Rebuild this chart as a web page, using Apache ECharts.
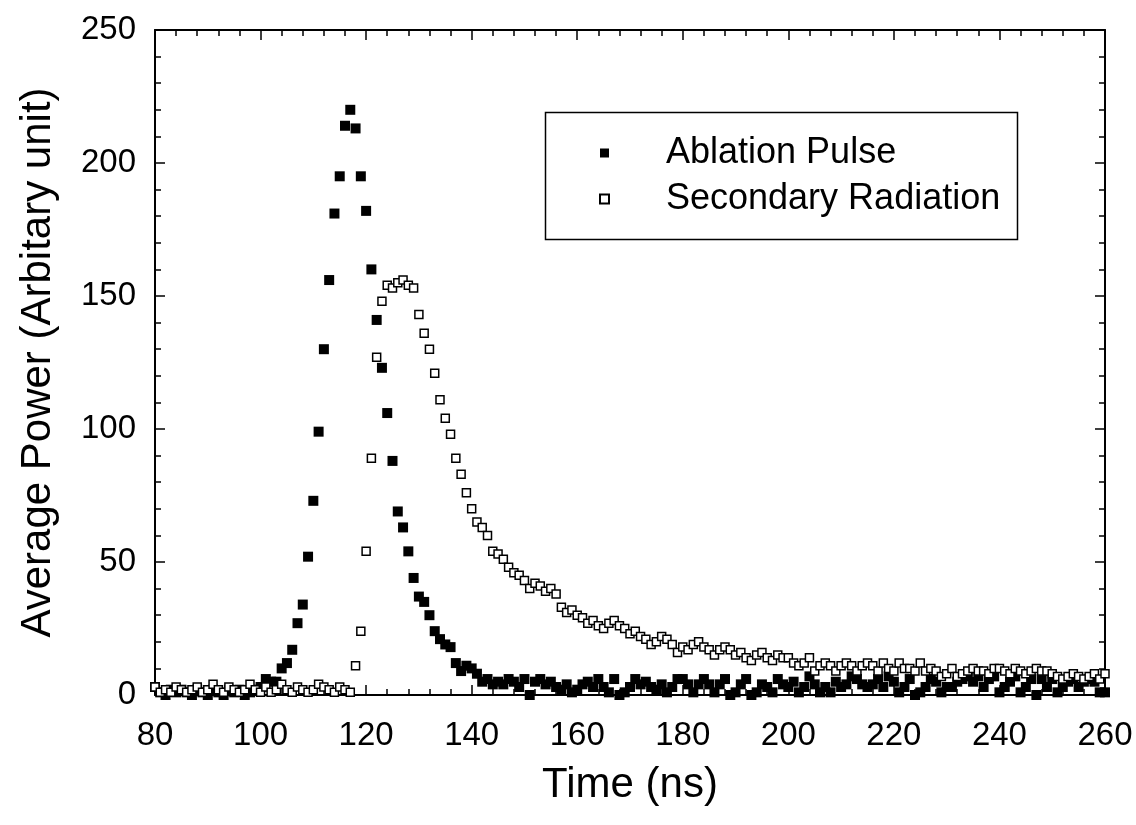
<!DOCTYPE html>
<html>
<head>
<meta charset="utf-8">
<script src="https://cdn.jsdelivr.net/npm/echarts@6/dist/echarts.min.js"></script>
<style>
html,body{margin:0;padding:0;background:#fff;}
#chart{width:1136px;height:825px;}
</style>
</head>
<body>
<div id="chart"></div>
<script>
// Time axis (ns): samples every 1 ns from 80 to 260
const timeStart = 80;
const timeStep = 1;

// Ablation Pulse (solid squares), t = 80..260
const ablation = [
  3,1,0,2,1,2,1,0,2,1,0,2,1,0,2,1,2,0,1,2,          // 80-99
  3,6,5,5,10,12,17,27,34,52,                        // 100-109
  73,99,130,156,181,195,214,220,213,195,            // 110-119
  182,160,141,123,106,88,69,63,54,44,               // 120-129
  37,35,30,24,21,19,18,12,9,11,                     // 130-139
  10,8,5,6,4,5,4,6,5,3,                             // 140-149
  6,0,5,6,4,5,3,2,4,1,                              // 150-159
  2,4,5,3,6,3,1,6,0,1,                              // 160-169
  3,6,4,5,3,2,4,1,3,6,                              // 170-179
  6,4,1,4,6,4,1,4,6,0,                              // 180-189
  1,4,6,0,1,4,3,1,6,4,                              // 190-199
  3,5,1,3,7,4,1,3,1,5,                              // 200-209
  3,4,7,6,4,3,4,6,3,7,                              // 210-219
  5,1,3,6,0,1,3,6,5,1,                              // 220-229
  3,3,5,6,7,5,7,3,6,7,                              // 230-239
  1,3,5,7,1,3,6,0,6,3,                              // 240-249
  6,1,3,5,6,3,5,6,5,1,                              // 250-259
  1                                                 // 260
];

// Secondary Radiation (open squares), t = 80..260
const secondary = [
  3,1,2,1,3,2,1,2,3,1,2,4,2,1,3,2,1,2,4,2,          // 80-99
  1,3,1,2,4,2,1,3,2,1,2,4,3,2,1,3,2,1,              // 100-117
  11,24,                                            // 118-119
  54,89,127,148,154,153,155,156,154,153,            // 120-129
  143,136,130,121,111,104,98,89,83,76,              // 130-139
  70,65,63,60,54,53,51,48,46,45,                    // 140-149
  43,40,42,41,39,40,38,33,31,32,                    // 150-159
  30,29,27,28,26,25,27,28,26,25,                    // 160-169
  23,24,22,21,19,20,22,21,19,16,                    // 170-179
  18,17,19,20,18,17,15,17,18,17,                    // 180-189
  15,16,14,13,15,16,14,13,15,14,                    // 190-199
  14,12,11,12,14,9,11,12,11,9,                      // 200-209
  11,12,11,9,11,12,11,9,12,10,                      // 210-219
  9,12,10,10,9,12,9,10,9,7,                         // 220-229
  8,10,7,8,9,10,9,9,8,10,                           // 230-239
  10,9,8,10,9,8,9,10,9,9,                           // 240-249
  8,7,6,7,8,7,6,7,8,6,                              // 250-259
  8                                                 // 260
];

const seriesNames = ['Ablation Pulse', 'Secondary Radiation'];
const xTicks = [80, 100, 120, 140, 160, 180, 200, 220, 240, 260];
const yTicks = [0, 50, 100, 150, 200, 250];

function pairs(vals) {
  return vals.map((v, i) => [timeStart + i * timeStep, v]);
}

const FONT = 'Liberation Sans, Arial, sans-serif';
const chart = echarts.init(document.getElementById('chart'), null, {renderer: 'canvas'});

const axisCommon = {
  axisLine: {show: true, onZero: false, lineStyle: {color: '#000', width: 2}},
  axisTick: {show: true, inside: true, length: 10, lineStyle: {color: '#000', width: 1.5}},
  minorTick: {show: true, splitNumber: 5, length: 6, lineStyle: {color: '#000', width: 1.5}},
  splitLine: {show: false}
};

chart.setOption({
  animation: false,
  backgroundColor: '#fff',
  grid: {left: 155, right: 31, top: 30, bottom: 130, containLabel: false},
  xAxis: [
    Object.assign({
      type: 'value', position: 'bottom',
      min: xTicks[0], max: xTicks[xTicks.length - 1], interval: 20,
      name: 'Time (ns)', nameLocation: 'middle', nameGap: 69,
      nameTextStyle: {fontFamily: FONT, fontSize: 42, color: '#000'},
      axisLabel: {fontFamily: FONT, fontSize: 33, color: '#000', margin: 24}
    }, axisCommon),
    Object.assign({
      type: 'value', position: 'top',
      min: xTicks[0], max: xTicks[xTicks.length - 1], interval: 20,
      axisLabel: {show: false}
    }, axisCommon)
  ],
  yAxis: [
    Object.assign({
      type: 'value', position: 'left',
      min: yTicks[0], max: yTicks[yTicks.length - 1], interval: 50,
      name: 'Average Power (Arbitary unit)', nameLocation: 'middle', nameGap: 96,
      nameTextStyle: {fontFamily: FONT, fontSize: 42, color: '#000'},
      axisLabel: {fontFamily: FONT, fontSize: 33, color: '#000', margin: 19}
    }, axisCommon),
    Object.assign({
      type: 'value', position: 'right',
      min: yTicks[0], max: yTicks[yTicks.length - 1], interval: 50,
      axisLabel: {show: false}
    }, axisCommon)
  ],
  legend: {
    left: 594, top: 128,
    orient: 'vertical',
    itemWidth: 9, itemHeight: 9, itemGap: 6,
    textStyle: {fontFamily: FONT, fontSize: 36, color: '#000', padding: [0, 0, 0, 52], lineHeight: 40},
    data: seriesNames
  },
  graphic: [{
    type: 'rect', left: 543, top: 110, z: 100,
    shape: {width: 472, height: 127},
    style: {fill: 'none', stroke: '#000', lineWidth: 1.5}
  }],
  series: [
    {
      name: seriesNames[0], type: 'scatter', symbol: 'rect', symbolSize: 10,
      itemStyle: {color: '#000', opacity: 1},
      data: pairs(ablation), z: 2
    },
    {
      name: seriesNames[1], type: 'scatter', symbol: 'rect', symbolSize: 8,
      itemStyle: {color: '#fff', borderColor: '#000', borderWidth: 1.5, opacity: 1},
      data: pairs(secondary), z: 3
    }
  ]
});
</script>
</body>
</html>
